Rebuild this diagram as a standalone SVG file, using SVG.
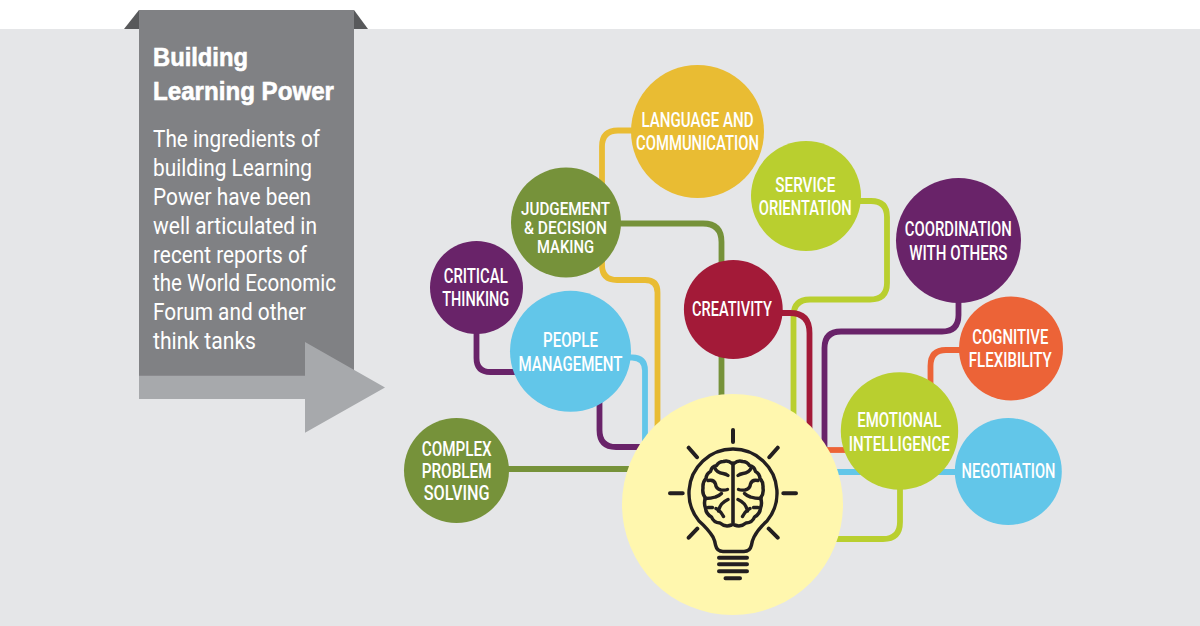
<svg xmlns="http://www.w3.org/2000/svg" xmlns:xlink="http://www.w3.org/1999/xlink" width="1200" height="626" viewBox="0 0 1200 626">
<style>
.n{font-family:Roboto,"Liberation Sans",sans-serif;font-weight:500;font-size:20px;fill:#fff;text-anchor:middle}
.j{font-size:18px}
.h{font-family:"Liberation Sans",Arial,sans-serif;font-weight:700;font-size:26px;fill:#fff;stroke:#fff;stroke-width:.6}
.b{font-family:Roboto,"Liberation Sans",sans-serif;font-weight:400;font-size:23.500px;fill:#fff}
.c{fill:none;stroke-width:5.8}
.k{fill:none;stroke:#231f20;stroke-linecap:round;stroke-linejoin:round}
</style>
<defs>
<g id="hemi">
<path class="k" stroke-width="3.500" d="M732 463.500Q728 460 723.500 461.500Q719 461.500 716.500 465.500Q711.500 466.500 710.500 471.500Q706.500 473.500 706 478.500Q702.500 482 703 488Q702 494 705.500 498Q703.500 503 705.500 508Q706 514 711.500 517Q713.500 522.500 720 523Q725 527.500 731.500 525"/>
<path class="k" stroke-width="3.400" d="M714.500 467.500Q717 473 723 473.500Q726 474 728 475.500"/>
<path class="k" stroke-width="3.400" d="M708 480.500Q714 479 715.500 484Q716 489 721 490Q725 490.500 727.500 489.500"/>
<path class="k" stroke-width="3.400" d="M705 498.500Q711 498.500 715.500 497Q719 496 721.500 493.500"/>
<path class="k" stroke-width="3.400" d="M728 499.500Q720 503 718.500 511"/>
<path class="k" stroke-width="3.400" d="M716 508.500Q721 511 723.500 516.500"/>
<path class="k" stroke-width="3.400" d="M708 507.500H712.500"/>
</g>
</defs>
<rect x="0" y="29" width="1200" height="597" fill="#e5e6e8"/>
<g id="banner">
<polygon points="124,29 139,10 139,29" fill="#58595b"/>
<polygon points="354,10 368,29 354,29" fill="#58595b"/>
<rect x="139" y="10" width="215" height="367" fill="#808184"/>
<polygon points="139,375.700 305,375.700 305,342 385,387.500 305,432.700 305,399 139,399" fill="#a7a9ac"/>
<text class="h" x="153" y="65.500" textLength="95" lengthAdjust="spacingAndGlyphs">Building</text>
<text class="h" x="153" y="99.500" textLength="181" lengthAdjust="spacingAndGlyphs">Learning Power</text>
<text class="b" x="153" y="146.500" textLength="167" lengthAdjust="spacingAndGlyphs">The ingredients of</text>
<text class="b" x="153" y="175.500" textLength="159" lengthAdjust="spacingAndGlyphs">building Learning</text>
<text class="b" x="153" y="204.500" textLength="158" lengthAdjust="spacingAndGlyphs">Power have been</text>
<text class="b" x="153" y="233.500" textLength="164" lengthAdjust="spacingAndGlyphs">well articulated in</text>
<text class="b" x="153" y="262.500" textLength="154" lengthAdjust="spacingAndGlyphs">recent reports of</text>
<text class="b" x="153" y="290.500" textLength="183" lengthAdjust="spacingAndGlyphs">the World Economic</text>
<text class="b" x="153" y="319.500" textLength="153" lengthAdjust="spacingAndGlyphs">Forum and other</text>
<text class="b" x="153" y="348.500" textLength="103" lengthAdjust="spacingAndGlyphs">think tanks</text>
</g>
<g id="connectors">
<path class="c" stroke="#e9bc33" d="M636 130.500H618Q602 130.500 602 146.500V265Q602 280 617 280H645Q657.500 280 657.500 292.500V440"/>
<path class="c" stroke="#76923a" d="M615 223.500H703Q721.500 223.500 721.500 242V400"/>
<path class="c" stroke="#76923a" d="M505 469H640"/>
<path class="c" stroke="#692369" d="M476.500 330V358Q476.500 372 490.500 372H520"/>
<path class="c" stroke="#62c6e9" d="M625 357.500H632Q645 357.500 645 370.500V450"/>
<path class="c" stroke="#692369" d="M599.500 400V430Q599.500 447 616 447H645"/>
<path class="c" stroke="#b9cf2f" d="M858 201H871Q887 201 887 217V283Q887 299.500 870 299.500H810Q793.500 299.500 793.500 316V425"/>
<path class="c" stroke="#a31a38" d="M778 313H790Q809.500 313 809.500 333V435"/>
<path class="c" stroke="#692369" d="M958.500 298V315Q958.500 331.500 942 331.500H841Q824.500 331.500 824.500 348V450"/>
<path class="c" stroke="#ec6337" d="M965 350H946Q930.500 350 930.500 366V390"/>
<path class="c" stroke="#ec6337" d="M820 450H850"/>
<path class="c" stroke="#62c6e9" d="M830 472H960"/>
<path class="c" stroke="#b9cf2f" d="M900 485V522Q900 539 883 539H835"/>
</g>
<g id="complex-problem-solving"><circle cx="456.500" cy="470.500" r="52.500" fill="#76923a"/>
<text class="n" x="456.700" y="455.500" textLength="70" lengthAdjust="spacingAndGlyphs">COMPLEX</text>
<text class="n" x="456.700" y="478" textLength="70" lengthAdjust="spacingAndGlyphs">PROBLEM</text>
<text class="n" x="456.700" y="500" textLength="66" lengthAdjust="spacingAndGlyphs">SOLVING</text></g>
<g id="critical-thinking"><circle cx="476.500" cy="287.500" r="46.500" fill="#692369"/>
<text class="n" x="475.700" y="283" textLength="64" lengthAdjust="spacingAndGlyphs">CRITICAL</text>
<text class="n" x="475.700" y="306" textLength="67" lengthAdjust="spacingAndGlyphs">THINKING</text></g>
<g id="judgement"><circle cx="566" cy="222.500" r="55" fill="#76923a"/>
<text class="n j" x="565.500" y="214.500" textLength="89" lengthAdjust="spacingAndGlyphs">JUDGEMENT</text>
<text class="n j" x="565.500" y="233.500" textLength="83" lengthAdjust="spacingAndGlyphs">&amp; DECISION</text>
<text class="n j" x="565.500" y="252.500" textLength="57" lengthAdjust="spacingAndGlyphs">MAKING</text></g>
<g id="people-management"><circle cx="570.500" cy="351.300" r="60.500" fill="#62c6e9"/>
<text class="n" x="570.500" y="347" textLength="55" lengthAdjust="spacingAndGlyphs">PEOPLE</text>
<text class="n" x="570.500" y="370.500" textLength="104" lengthAdjust="spacingAndGlyphs">MANAGEMENT</text></g>
<g id="language"><circle cx="697.500" cy="131.500" r="66.500" fill="#e9bc33"/>
<text class="n" x="697.500" y="127.300" textLength="112" lengthAdjust="spacingAndGlyphs">LANGUAGE AND</text>
<text class="n" x="697.500" y="150" textLength="123" lengthAdjust="spacingAndGlyphs">COMMUNICATION</text></g>
<g id="service"><circle cx="806" cy="196" r="55" fill="#b9cf2f"/>
<text class="n" x="805.300" y="192.300" textLength="60" lengthAdjust="spacingAndGlyphs">SERVICE</text>
<text class="n" x="805.300" y="215" textLength="93" lengthAdjust="spacingAndGlyphs">ORIENTATION</text></g>
<g id="creativity"><circle cx="733.300" cy="309.500" r="49.400" fill="#a31a38"/>
<text class="n" x="732" y="316" textLength="80" lengthAdjust="spacingAndGlyphs">CREATIVITY</text></g>
<g id="coordination"><circle cx="958.500" cy="240.500" r="62.500" fill="#692369"/>
<text class="n" x="958.300" y="236.300" textLength="107" lengthAdjust="spacingAndGlyphs">COORDINATION</text>
<text class="n" x="958.300" y="259.500" textLength="98" lengthAdjust="spacingAndGlyphs">WITH OTHERS</text></g>
<g id="cognitive"><circle cx="1011" cy="348.500" r="52" fill="#ec6337"/>
<text class="n" x="1010.300" y="344" textLength="76" lengthAdjust="spacingAndGlyphs">COGNITIVE</text>
<text class="n" x="1010.300" y="367.300" textLength="83" lengthAdjust="spacingAndGlyphs">FLEXIBILITY</text></g>
<g id="negotiation"><circle cx="1008.300" cy="471.500" r="53.500" fill="#62c6e9"/>
<text class="n" x="1008.500" y="478.300" textLength="94" lengthAdjust="spacingAndGlyphs">NEGOTIATION</text></g>
<g id="emotional"><circle cx="899.500" cy="431" r="58.700" fill="#b9cf2f"/>
<text class="n" x="899.300" y="427.300" textLength="84" lengthAdjust="spacingAndGlyphs">EMOTIONAL</text>
<text class="n" x="899.300" y="450.500" textLength="101" lengthAdjust="spacingAndGlyphs">INTELLIGENCE</text></g>
<g id="learning-power"><circle cx="732.500" cy="504.500" r="110.500" fill="#fff7ae"/>
<path class="k" stroke-width="3.400" d="M767 521A44 44 0 1 0 699 521Q708 529 713 537Q715 541 715.500 545Q717 551.500 723 551.500H744Q750 551.500 751.500 545Q752 541 754 537Q758 529 767 521Z"/>
<g class="k" stroke-width="4">
<path d="M733 430V442M670 493.300H682.700M783.300 493.300H796M688.700 447.700L697 457.200M777.700 447.700L769.300 457.200M688.700 537.700L697.300 528.700M777.700 537.700L768.700 528.700"/>
<path d="M719 557.700H747M719 564.300H747M719 571.300H747M725.500 578.300H740"/>
</g>
<path class="k" stroke-width="3.600" d="M733 463V523"/>
<use xlink:href="#hemi" href="#hemi"/>
<use xlink:href="#hemi" href="#hemi" transform="matrix(-1 0 0 1 1466 0)"/>
</g>
</svg>
